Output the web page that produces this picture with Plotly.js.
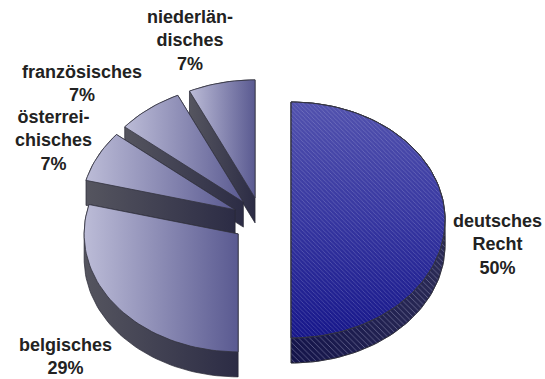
<!DOCTYPE html>
<html><head><meta charset="utf-8">
<script src="https://cdn.plot.ly/plotly-3.0.1.min.js"></script>
<style>html,body{margin:0;padding:0;background:#fff}#chart{width:545px;height:379px}</style>
</head><body><div id="chart"></div>
<script>
// ---- data ----
const categories = ['deutsches Recht', 'belgisches', 'österreichisches', 'französisches', 'niederländisches'];
const shareValues = [50, 29, 7, 7, 7];
const labelLines = ['deutsches<br>Recht', 'belgisches', 'österrei-<br>chisches', 'französisches', 'niederlän-<br>disches'];

// ---- layout / style ----
const W = 545, H = 379;
const geom = {cx: 261.5, cy: 220, rx: 154, ry: 118, depth: 25, explode: 0.192, steps: 90};
const labelPos = [[497, 244], [65, 356], [53.5, 140.5], [82, 83.5], [190, 40]];
const drawOrder = [4, 3, 2, 0, 1];
const greyTop = [[0, '#bcbcd7'], [1, '#5a5a91']];
const greySide = [[0, '#55555f'], [1, '#2c2c45']];
const germanTop = [[0, '#16168a'], [0.5, '#3636a0'], [1, '#5252ae']];
const germanSide = [[0, '#14144a'], [1, '#2a2a55']];

function hull(pts) {
  const p = pts.slice().sort((a, b) => a[0] - b[0] || a[1] - b[1]);
  const cross = (o, a, b) => (a[0] - o[0]) * (b[1] - o[1]) - (a[1] - o[1]) * (b[0] - o[0]);
  const lower = [], upper = [];
  for (const q of p) { while (lower.length >= 2 && cross(lower[lower.length - 2], lower[lower.length - 1], q) <= 0) lower.pop(); lower.push(q); }
  for (let i = p.length - 1; i >= 0; i--) { const q = p[i]; while (upper.length >= 2 && cross(upper[upper.length - 2], upper[upper.length - 1], q) <= 0) upper.pop(); upper.push(q); }
  upper.pop(); lower.pop();
  return lower.concat(upper);
}

const total = shareValues.reduce((a, b) => a + b, 0);
const slices = [];
let cum = 0;
shareValues.forEach((v, i) => {
  const a0 = cum / total * 2 * Math.PI, a1 = (cum + v) / total * 2 * Math.PI, mid = (a0 + a1) / 2;
  cum += v;
  const ox = geom.cx + geom.explode * geom.rx * Math.sin(mid);
  const oy = geom.cy - geom.explode * geom.ry * Math.cos(mid);
  const top = [[ox, oy]];
  const n = Math.max(6, Math.round(geom.steps * v / 50));
  for (let k = 0; k <= n; k++) {
    const t = a0 + (a1 - a0) * k / n;
    top.push([ox + geom.rx * Math.sin(t), oy - geom.ry * Math.cos(t)]);
  }
  top.push([ox, oy]);
  const side = hull(top.concat(top.map(p => [p[0], p[1] + geom.depth])));
  side.push(side[0]);
  slices.push({top, side});
});

const toX = pts => pts.map(p => p[0]);
const toY = pts => pts.map(p => H - p[1]);
const traces = [];
drawOrder.forEach(i => {
  const s = slices[i];
  const german = i === 0;
  traces.push({type: 'scatter', mode: 'lines', x: toX(s.side), y: toY(s.side), fill: 'toself',
    fillgradient: {type: 'horizontal', colorscale: german ? germanSide : greySide},
    line: {color: '#262633', width: 0.7}, hoverinfo: 'skip', name: categories[i]});
  if (german) {
    traces.push({type: 'scatter', mode: 'lines', x: toX(s.side), y: toY(s.side), fill: 'toself',
      fillcolor: 'rgba(0,0,0,0)',
      fillpattern: {shape: '\\', fgcolor: 'rgba(200,200,230,0.45)', bgcolor: 'rgba(0,0,0,0)', size: 4, solidity: 0.2},
      line: {color: '#262633', width: 0.7}, hoverinfo: 'skip'});
  }
  traces.push({type: 'scatter', mode: 'lines', x: toX(s.top), y: toY(s.top), fill: 'toself',
    fillgradient: {type: german ? 'vertical' : 'horizontal', colorscale: german ? germanTop : greyTop},
    line: {color: '#333340', width: 0.8}, hoverinfo: 'skip', name: categories[i]});
  if (german) {
    traces.push({type: 'scatter', mode: 'lines', x: toX(s.top), y: toY(s.top), fill: 'toself',
      fillcolor: 'rgba(0,0,0,0)',
      fillpattern: {shape: '\\', fgcolor: 'rgba(210,210,240,0.35)', bgcolor: 'rgba(0,0,0,0)', size: 3, solidity: 0.2},
      line: {color: '#333340', width: 0.8}, hoverinfo: 'skip'});
  }
});

const annotations = shareValues.map((v, i) => ({
  x: labelPos[i][0], y: H - labelPos[i][1], xref: 'x', yref: 'y', showarrow: false,
  text: '<b>' + labelLines[i] + '<br>' + Math.round(v / total * 100) + '%</b>',
  align: 'center', xanchor: 'center', yanchor: 'middle',
  font: {family: 'Liberation Sans, Arial, sans-serif', size: 18, color: '#222222'}
}));

const layout = {
  width: W, height: H, margin: {l: 0, r: 0, t: 0, b: 0},
  paper_bgcolor: '#ffffff', plot_bgcolor: '#ffffff', showlegend: false,
  xaxis: {range: [0, W], visible: false, fixedrange: true},
  yaxis: {range: [0, H], visible: false, fixedrange: true},
  annotations
};
Plotly.newPlot('chart', traces, layout, {staticPlot: true, displayModeBar: false});
</script></body></html>
